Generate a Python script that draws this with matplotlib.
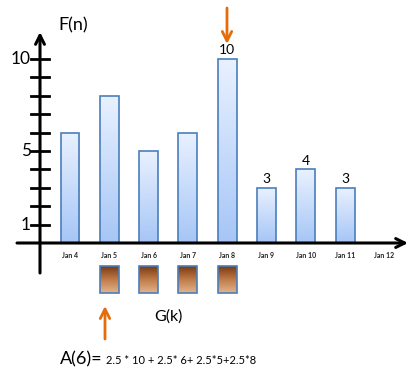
import numpy as np
import matplotlib.pyplot as plt
from matplotlib.colors import LinearSegmentedColormap

plt.rcParams['font.family'] = ['Lato', 'DejaVu Sans']

# ==============================
# Data
# ==============================

days = ["Jan 4", "Jan 5", "Jan 6", "Jan 7", "Jan 8", "Jan 9", "Jan 10", "Jan 11", "Jan 12"]
f_values = [6, 8, 5, 6, 10, 3, 4, 3]          # F(n), Jan 4 .. Jan 11
labelled = {"Jan 8": 10, "Jan 9": 3, "Jan 10": 4, "Jan 11": 3}
g_days = ["Jan 5", "Jan 6", "Jan 7", "Jan 8"]  # G(k) window
y_ticks = list(range(1, 11))
y_labels = {1: "1", 5: "5", 10: "10"}
formula = "2.5 * 10 + 2.5* 6+ 2.5*5+2.5*8"

# ==============================
# Figure (417 x 379 px)
# ==============================

W, H = 417, 379
fig = plt.figure(figsize=(W / 100, H / 100), dpi=100)
ax = fig.add_axes([0, 0, 1, 1])
ax.axis("off")

# pixel layout: category i centered at 70 + 39.3*i, value 0 at y=243, 18.4 px per unit
x0, dx = 70, 39.3
y0, dy = 243, 18.4
xlim = (-x0 / dx, (W - x0) / dx)
ylim = ((y0 - H) / dy, y0 / dy)


def px(x, y):
    # pixel position -> data position
    return ((x - x0) / dx, (y0 - y) / dy)


blue_cmap = LinearSegmentedColormap.from_list("b", ["#a6c6f6", "#e9f1ff"])
brown_cmap = LinearSegmentedColormap.from_list("br", ["#e2b48e", "#c07a48", "#7a3a12"])
grad = np.linspace(0, 1, 100).reshape(-1, 1)


def fill_gradient(patches, cmap):
    for p in patches:
        bx, by = p.get_x(), p.get_y()
        bw, bh = p.get_width(), p.get_height()
        im = ax.imshow(grad, extent=[bx, bx + bw, min(by, by + bh), max(by, by + bh)],
                       origin="lower", aspect="auto", cmap=cmap, zorder=2)
        im.set_clip_path(p)


# F(n) bars
xs = np.arange(len(f_values))
bars = ax.bar(xs, f_values, width=0.48, facecolor="none", edgecolor="#4a7ebb",
              linewidth=1.2, zorder=3)
fill_gradient(bars, blue_cmap)

# value labels
for name, v in labelled.items():
    i = days.index(name)
    ax.text(i, v + 0.15, str(v), ha="center", va="bottom", fontsize=10, color="black")

# G(k) boxes
g_idx = [days.index(d) for d in g_days]
boxes = ax.bar(g_idx, [-1.45] * len(g_idx), bottom=-1.25, width=0.48,
               facecolor="none", edgecolor="#4a7ebb", linewidth=1.2, zorder=3)
fill_gradient(boxes, brown_cmap)

# day labels
for i, d in enumerate(days):
    ax.text(i, px(0, 255)[1], d, ha="center", va="center", fontsize=5,
            fontweight="bold", color="#222222")

# ==============================
# Axes drawn by hand
# ==============================

ax_x = px(40, 0)[0]
ax.annotate("", xy=(ax_x, px(0, 32)[1]), xytext=(ax_x, px(0, 273)[1]),
            arrowprops=dict(arrowstyle="->", lw=2.2, color="black",
                            mutation_scale=16, shrinkA=0, shrinkB=0), zorder=4)
ax.annotate("", xy=(px(408, 0)[0], 0), xytext=(px(17, 0)[0], 0),
            arrowprops=dict(arrowstyle="->", lw=2.2, color="black",
                            mutation_scale=16, shrinkA=0, shrinkB=0), zorder=4)

tick_l, tick_r = px(31, 0)[0], px(49, 0)[0]
for t in y_ticks:
    ax.plot([tick_l, tick_r], [t, t], color="black", lw=2, zorder=4)
    if t in y_labels:
        ax.text(px(31, 0)[0], t, y_labels[t], ha="right", va="center",
                fontsize=12.5, color="black")

# ==============================
# Annotations
# ==============================

orange = "#e46c0a"
ax.annotate("", xy=px(227, 44), xytext=px(227, 8),
            arrowprops=dict(arrowstyle="->", lw=2, color=orange,
                            mutation_scale=17, shrinkA=0, shrinkB=0))
ax.annotate("", xy=px(105, 306), xytext=px(105, 339),
            arrowprops=dict(arrowstyle="->", lw=2, color=orange,
                            mutation_scale=17, shrinkA=0, shrinkB=0))

ax.text(*px(58, 25), "F(n)", ha="left", va="center", fontsize=13, color="black")
ax.text(*px(168, 317), "G(k)", ha="center", va="center", fontsize=11.5, color="black")
ax.text(*px(60, 359), "A(6)=", ha="left", va="center", fontsize=13, color="black")
ax.text(*px(106, 361), formula, ha="left", va="center", fontsize=8, color="black")

ax.set_xlim(*xlim)
ax.set_ylim(*ylim)

fig.savefig("out.png", dpi=100)
